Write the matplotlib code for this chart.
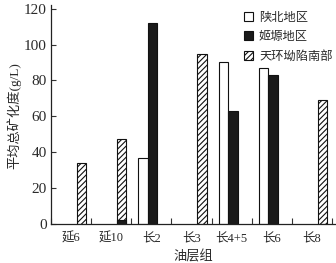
import numpy as np
import matplotlib
matplotlib.use("Agg")
import matplotlib.pyplot as plt
from matplotlib.patches import Patch

plt.rcParams['font.family'] = ['Liberation Serif', 'Noto Sans CJK SC', 'DejaVu Sans']
plt.rcParams['hatch.linewidth'] = 0.8

groups = ['延6', '延10', '长2', '长3', '长4+5', '长6', '长8']
shaanbei = [np.nan, np.nan, 36.6, np.nan, 90.1, 87.1, np.nan]
jiyuan = [np.nan, 2.2, 112.1, np.nan, 62.8, 83.1, np.nan]
tianhuan = [34.2, 47.4, np.nan, 94.9, np.nan, np.nan, 68.9]
series_names = ['陕北地区', '姬塬地区', '天环坳陷南部']
yticks = [0, 20, 40, 60, 80, 100, 120]

txt = '#2a2a2a'
fig = plt.figure(figsize=(3.36, 2.63), dpi=100)
ax = fig.add_axes([0.152, 0.148, 0.848, 0.826])

x = np.arange(len(groups))
w = 0.235
off_w, off_b, off_h = -0.21, 0.03, 0.26
th = np.array(tianhuan)
xb = np.where(~np.isnan(th), x + off_h, x + off_b)

ax.bar(x + off_w, shaanbei, w, color='white', edgecolor='#111111', linewidth=0.8)
ax.bar(x + off_h, tianhuan, w, color='white', edgecolor='#111111', linewidth=0.8, hatch='//////')
ax.bar(xb, jiyuan, w, color='#1a1a1a', edgecolor='#111111', linewidth=0.8)

ax.set_xlim(-0.5, 6.6)
ax.set_ylim(0, 121)
ax.set_yticks(yticks)
ax.set_xticks(x)
ax.set_xticklabels(groups)
ax.set_xticks(np.arange(-0.5, 6.6, 1.0), minor=True)
ax.tick_params(axis='x', which='major', length=0, pad=6, labelsize=9, colors=txt)
ax.tick_params(axis='x', which='minor', direction='in', length=4, width=0.8, color='#333333')
ax.tick_params(axis='y', direction='in', length=3.5, width=0.8, labelsize=11, pad=3, colors=txt, color='#333333')
for s in ['top', 'right']:
    ax.spines[s].set_visible(False)
for s in ['left', 'bottom']:
    ax.spines[s].set_linewidth(0.9)
    ax.spines[s].set_color('#222222')
ax.spines['left'].set_bounds(0, 122)

ax.set_ylabel('平均总矿化度(g/L)', fontsize=9.5, color=txt, labelpad=2)
ax.set_xlabel('油层组', fontsize=9.5, color=txt, labelpad=4)

handles = [Patch(facecolor='white', edgecolor='#111111', linewidth=0.8),
           Patch(facecolor='#1a1a1a', edgecolor='#111111', linewidth=0.8),
           Patch(facecolor='white', edgecolor='#111111', linewidth=0.8, hatch='//////')]
leg = ax.legend(handles, series_names, loc='upper right', bbox_to_anchor=(1.005, 1.0),
                frameon=False, fontsize=8.8, handlelength=0.75, handleheight=0.75,
                handletextpad=0.5, labelspacing=0.6, borderaxespad=0)
for t in leg.get_texts():
    t.set_color(txt)

fig.savefig('out.png', dpi=100)
